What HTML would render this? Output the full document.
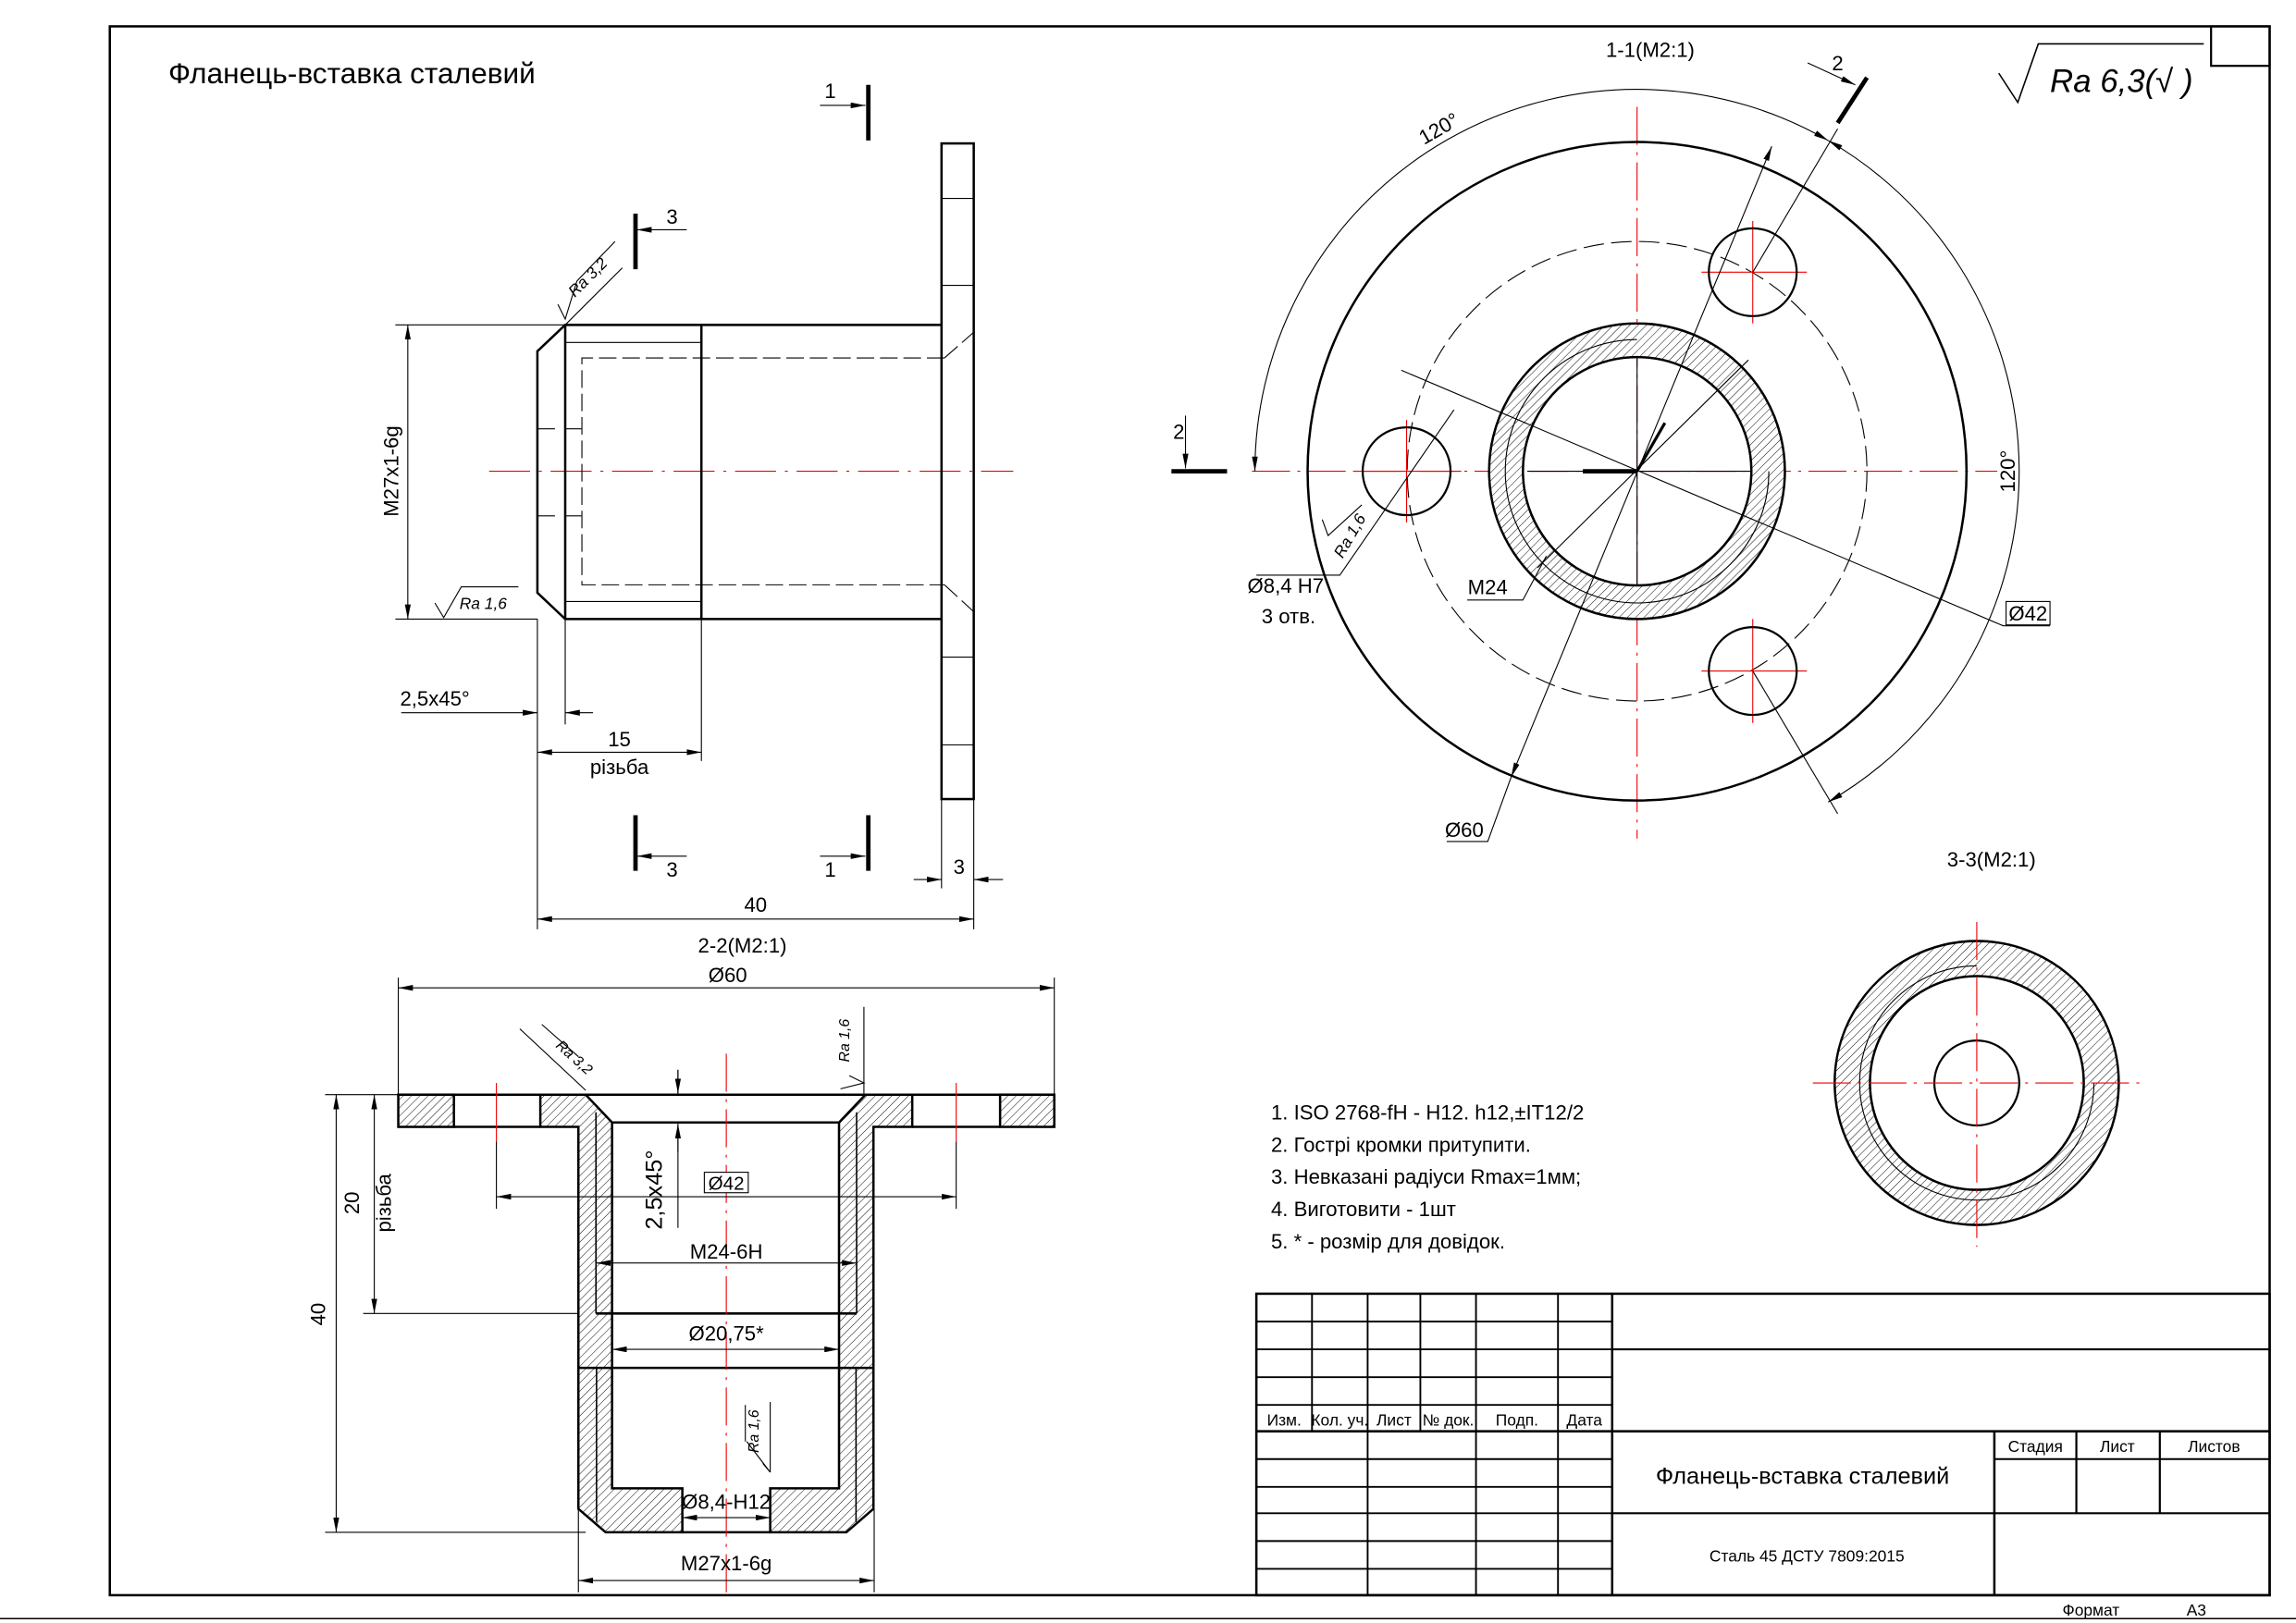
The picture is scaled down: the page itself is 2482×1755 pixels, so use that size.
<!DOCTYPE html>
<html><head><meta charset="utf-8"><style>
html,body{margin:0;padding:0;background:#fff;}
svg{display:block;}
text{font-family:"Liberation Sans Narrow","Liberation Sans","DejaVu Sans",sans-serif;fill:#000;}
</style></head><body>
<svg width="2482" height="1755" viewBox="0 0 1568 1109" preserveAspectRatio="none" xmlns="http://www.w3.org/2000/svg">
<defs>
<pattern id="h" patternUnits="userSpaceOnUse" width="4" height="4" patternTransform="rotate(45)">
<rect width="4" height="4" fill="#fff"/><line x1="0" y1="0" x2="0" y2="4" stroke="#000" stroke-width="0.6"/></pattern>
<marker id="a" viewBox="0 0 10 4" refX="10" refY="2" markerWidth="10" markerHeight="4" markerUnits="userSpaceOnUse" orient="auto-start-reverse"><path d="M0,0 L10,2 L0,4 z" fill="#000"/></marker>
</defs>
<rect width="1568" height="1109" fill="#fff"/>
<!-- frame -->
<g fill="none" stroke="#000">
<rect x="75" y="18" width="1475" height="1072" stroke-width="1.6"/>
<rect x="1510" y="18" width="40" height="27" stroke-width="1.4"/>
<line x1="0" y1="1106" x2="1568" y2="1106" stroke-width="1"/>
</g>
<text x="115" y="57" font-size="20">Фланець-вставка сталевий</text>

<!-- ============ SIDE VIEW ============ -->
<line x1="334" y1="322" x2="692" y2="322" stroke="#e00" stroke-width="0.7" stroke-dasharray="28,6,2,6"/>
<g fill="none" stroke="#000" stroke-width="1.6">
<rect x="643" y="98" width="22" height="448"/>
<polyline points="643,222 386,222 367,240 367,405 386,423 643,423"/>
<line x1="386" y1="222" x2="386" y2="423"/>
<line x1="479" y1="222" x2="479" y2="423"/>
</g>
<g fill="none" stroke="#000" stroke-width="0.7">
<line x1="386" y1="234" x2="479" y2="234"/>
<line x1="386" y1="411" x2="479" y2="411"/>
<line x1="643" y1="135.6" x2="665" y2="135.6"/>
<line x1="643" y1="195" x2="665" y2="195"/>
<line x1="643" y1="449" x2="665" y2="449"/>
<line x1="643" y1="509" x2="665" y2="509"/>
<polyline points="645,244.6 397.4,244.6 397.4,399.6 645,399.6" stroke-dasharray="12,4"/>
<line x1="645" y1="244.6" x2="665" y2="227" stroke-dasharray="12,4"/>
<line x1="645" y1="399.6" x2="665" y2="418" stroke-dasharray="12,4"/>
<line x1="367" y1="293" x2="379" y2="293"/><line x1="386" y1="293" x2="397" y2="293"/>
<line x1="367" y1="352.5" x2="379" y2="352.5"/><line x1="386" y1="352.5" x2="397" y2="352.5"/>
<!-- M27 dim -->
<line x1="270" y1="222" x2="386" y2="222"/>
<line x1="270" y1="423" x2="367" y2="423"/>
<line x1="278.5" y1="222" x2="278.5" y2="423" marker-start="url(#a)" marker-end="url(#a)"/>
<!-- Ra 1,6 -->
<polyline points="297,412 303,422 315,401 354,401"/>
<!-- Ra 3,2 -->
<polyline points="381,208 386,218 394,192"/>
<line x1="386" y1="222" x2="425" y2="183"/>
<line x1="394" y1="192" x2="420" y2="165"/>
<!-- chamfer dim -->
<line x1="367" y1="423" x2="367" y2="635"/>
<line x1="386" y1="423" x2="386" y2="495"/>
<line x1="274" y1="487" x2="367" y2="487" marker-end="url(#a)"/>
<line x1="405" y1="487" x2="386" y2="487" marker-end="url(#a)"/>
<!-- 15 -->
<line x1="479" y1="423" x2="479" y2="520"/>
<line x1="367" y1="514" x2="479" y2="514" marker-start="url(#a)" marker-end="url(#a)"/>
<!-- 40 -->
<line x1="665" y1="546" x2="665" y2="635"/>
<line x1="643" y1="546" x2="643" y2="607"/>
<line x1="367" y1="628" x2="665" y2="628" marker-start="url(#a)" marker-end="url(#a)"/>
<!-- 3 -->
<line x1="624" y1="601" x2="643" y2="601" marker-end="url(#a)"/>
<line x1="685" y1="601" x2="665" y2="601" marker-end="url(#a)"/>
<!-- section arrows -->
<line x1="469" y1="157" x2="435" y2="157" marker-end="url(#a)"/>
<line x1="560" y1="72" x2="591" y2="72" marker-end="url(#a)"/>
<line x1="469" y1="585" x2="435" y2="585" marker-end="url(#a)"/>
<line x1="560" y1="585" x2="591" y2="585" marker-end="url(#a)"/>
</g>
<g stroke="#000" stroke-width="3">
<line x1="593" y1="58" x2="593" y2="96"/>
<line x1="434" y1="146" x2="434" y2="184"/>
<line x1="434" y1="557" x2="434" y2="595"/>
<line x1="593" y1="557" x2="593" y2="595"/>
</g>
<text x="567" y="67" font-size="14" text-anchor="middle">1</text>
<text x="459" y="153" font-size="14" text-anchor="middle">3</text>
<text x="459" y="599" font-size="14" text-anchor="middle">3</text>
<text x="567" y="599" font-size="14" text-anchor="middle">1</text>
<text x="655" y="597" font-size="14" text-anchor="middle">3</text>
<text x="516" y="623" font-size="14" text-anchor="middle">40</text>
<text x="423" y="510" font-size="14" text-anchor="middle">15</text>
<text x="423" y="529" font-size="14" text-anchor="middle">різьба</text>
<text x="297" y="482" font-size="14" text-anchor="middle">2,5x45°</text>
<text x="272" y="322" font-size="14" text-anchor="middle" transform="rotate(-90 272 322)">M27x1-6g</text>
<text x="330" y="416" font-size="11" font-style="italic" text-anchor="middle">Ra 1,6</text>
<text x="404" y="192" font-size="11" font-style="italic" text-anchor="middle" transform="rotate(-45 404 192)">Ra 3,2</text>

<!-- ============ SECTION 1-1 ============ -->
<text x="1127" y="39" font-size="14" text-anchor="middle">1-1(M2:1)</text>
<g stroke="#e00" stroke-width="0.7" stroke-dasharray="26,5,2,5" fill="none">
<line x1="855" y1="322" x2="1364" y2="322"/>
<line x1="1118" y1="73" x2="1118" y2="573"/>
<circle cx="1118" cy="322" r="157" stroke="#000" stroke-dasharray="14,5"/>
</g>
<g stroke="#e00" stroke-width="0.7">
<line x1="925" y1="322" x2="998" y2="322"/><line x1="960.6" y1="287" x2="960.6" y2="357"/>
<line x1="1162" y1="186" x2="1234" y2="186"/><line x1="1197" y1="151" x2="1197" y2="221"/>
<line x1="1162" y1="458.5" x2="1234" y2="458.5"/><line x1="1197" y1="423" x2="1197" y2="494"/>
</g>
<circle cx="1118" cy="322" r="225" fill="none" stroke="#000" stroke-width="1.6"/>
<path d="M1118,221 A101,101 0 1,1 1117.9,221 Z M1118,244 A78,78 0 1,0 1118.1,244 Z" fill="url(#h)" fill-rule="evenodd" stroke="#000" stroke-width="1.6"/>
<path d="M1208,322 A90,90 0 1,1 1118,232" fill="none" stroke="#000" stroke-width="0.7"/>
<g fill="none" stroke="#000" stroke-width="1.4">
<circle cx="960.6" cy="322" r="30"/>
<circle cx="1197" cy="186" r="30"/>
<circle cx="1197" cy="458.5" r="30"/>
</g>
<g fill="none" stroke="#000" stroke-width="0.7">
<line x1="1043" y1="322" x2="1196" y2="322"/>
<line x1="1118" y1="244" x2="1118" y2="400"/>
<path d="M857,322 A261,261 0 0,1 1248.5,96" marker-start="url(#a)" marker-end="url(#a)"/>
<path d="M1248.5,96 A261,261 0 0,1 1248.5,548" marker-start="url(#a)" marker-end="url(#a)"/>
<line x1="1197" y1="186" x2="1255" y2="88"/>
<line x1="1197" y1="458.5" x2="1255" y2="556"/>
<line x1="1210" y1="100" x2="1032" y2="531" marker-start="url(#a)" marker-end="url(#a)"/>
<polyline points="1032,531 1016,575 988,575"/>
<line x1="957" y1="253" x2="1368" y2="427.6"/>
<line x1="1368" y1="427.6" x2="1400" y2="427.6"/>
<line x1="1194" y1="246" x2="1050" y2="388"/>
<polyline points="1056,380 1040,410 1002,410"/>
<polyline points="993,280 915,393 858,393"/>
<polyline points="903,355 907,366 930,345"/>
<line x1="1234.5" y1="43" x2="1267" y2="58" marker-end="url(#a)"/>
<line x1="809.6" y1="284" x2="809.6" y2="320" marker-end="url(#a)"/>
</g>
<g stroke="#000" stroke-width="3">
<line x1="1081" y1="322" x2="1118" y2="322"/>
<line x1="1118" y1="322" x2="1137" y2="289" stroke-width="2"/>
<line x1="800" y1="322" x2="838" y2="322"/>
<line x1="1255" y1="84" x2="1275" y2="53"/>
</g>
<text x="1255" y="48" font-size="14" text-anchor="middle">2</text>
<text x="805" y="300" font-size="14" text-anchor="middle">2</text>
<text x="985" y="92" font-size="14" text-anchor="middle" transform="rotate(-30 985 92)">120°</text>
<text x="1376" y="322" font-size="14" text-anchor="middle" transform="rotate(-90 1376 322)">120°</text>
<text x="1000" y="572" font-size="14" text-anchor="middle">Ø60</text>
<text x="1016" y="406" font-size="14" text-anchor="middle">M24</text>
<text x="878" y="405" font-size="14" text-anchor="middle">Ø8,4 H7</text>
<text x="880" y="426" font-size="14" text-anchor="middle">3 отв.</text>
<rect x="1370" y="411" width="30" height="16" fill="none" stroke="#000" stroke-width="0.7"/>
<text x="1385" y="424" font-size="14" text-anchor="middle">Ø42</text>
<text x="925" y="368" font-size="11" font-style="italic" text-anchor="middle" transform="rotate(-60 925 368)">Ra 1,6</text>
<!-- Ra 6,3 -->
<polyline points="1365,50 1378,70 1392,30 1505,30" fill="none" stroke="#000" stroke-width="1"/>
<text x="1400" y="63" font-size="22" font-style="italic">Ra 6,3(√ )</text>

<!-- ============ SECTION 3-3 ============ -->
<text x="1360" y="592" font-size="14" text-anchor="middle">3-3(M2:1)</text>
<path d="M1350,643 A97,97 0 1,1 1349.9,643 Z M1350,667 A73,73 0 1,0 1350.1,667 Z" fill="url(#h)" fill-rule="evenodd" stroke="#000" stroke-width="1.6"/>
<path d="M1430,740 A80,80 0 1,1 1350,660" fill="none" stroke="#000" stroke-width="0.7"/>
<circle cx="1350" cy="740" r="29" fill="none" stroke="#000" stroke-width="1.4"/>
<g stroke="#e00" stroke-width="0.7" stroke-dasharray="26,5,2,5">
<line x1="1238" y1="740" x2="1463" y2="740"/>
<line x1="1350" y1="630" x2="1350" y2="852"/>
</g>

<!-- ============ SECTION 2-2 ============ -->
<text x="507" y="651" font-size="14" text-anchor="middle">2-2(M2:1)</text>
<text x="497" y="671" font-size="14" text-anchor="middle">Ø60</text>
<g stroke="#000" stroke-width="1.6" fill="url(#h)">
<rect x="272" y="748" width="38" height="22"/>
<rect x="683" y="748" width="37" height="22"/>
<polygon points="369,748 400,748 418,767 418,1017 466,1017 466,1047 413.6,1047 395,1031 395,770 369,770"/>
<polygon points="623,748 591,748 573,767 573,1017 526,1017 526,1047 578,1047 596.5,1031 596.5,770 623,770"/>
</g>
<g stroke="#000" stroke-width="1.6" fill="none">
<line x1="272" y1="748" x2="720" y2="748"/>
<line x1="310" y1="770" x2="369" y2="770"/>
<line x1="623" y1="770" x2="683" y2="770"/>
<line x1="418" y1="767" x2="573" y2="767"/>
<line x1="407" y1="897.5" x2="585" y2="897.5"/>
<line x1="395" y1="934.7" x2="596.5" y2="934.7"/>
<line x1="466" y1="1047" x2="526" y2="1047"/>
</g>
<g stroke="#000" stroke-width="1" fill="none">
<line x1="407" y1="760" x2="407" y2="897.5"/>
<line x1="585" y1="760" x2="585" y2="897.5"/>
<line x1="407.4" y1="934.7" x2="407.4" y2="1040"/>
<line x1="584.6" y1="934.7" x2="584.6" y2="1040"/>
</g>
<g stroke="#e00" stroke-width="0.7">
<line x1="496" y1="720" x2="496" y2="1092" stroke-dasharray="26,5,2,5"/>
<line x1="339" y1="740" x2="339" y2="780"/>
<line x1="653" y1="740" x2="653" y2="780"/>
</g>
<g stroke="#000" stroke-width="0.7" fill="none">
<line x1="272" y1="668" x2="272" y2="748"/>
<line x1="720" y1="668" x2="720" y2="748"/>
<line x1="272" y1="675" x2="720" y2="675" marker-start="url(#a)" marker-end="url(#a)"/>
<line x1="222" y1="748" x2="272" y2="748"/>
<line x1="222" y1="1047" x2="400" y2="1047"/>
<line x1="229.6" y1="748" x2="229.6" y2="1047" marker-start="url(#a)" marker-end="url(#a)"/>
<line x1="248" y1="897.5" x2="395" y2="897.5"/>
<line x1="255.6" y1="748" x2="255.6" y2="897.5" marker-start="url(#a)" marker-end="url(#a)"/>
<line x1="339" y1="780" x2="339" y2="826"/>
<line x1="653" y1="780" x2="653" y2="826"/>
<line x1="339" y1="817.7" x2="653" y2="817.7" marker-start="url(#a)" marker-end="url(#a)"/>
<line x1="463" y1="731" x2="463" y2="748" />
<line x1="463" y1="731" x2="463" y2="747" marker-end="url(#a)"/>
<line x1="463" y1="787" x2="463" y2="768" marker-end="url(#a)"/>
<line x1="463" y1="768" x2="463" y2="839"/>
<line x1="407" y1="863" x2="585" y2="863" marker-start="url(#a)" marker-end="url(#a)"/>
<line x1="418" y1="922" x2="573" y2="922" marker-start="url(#a)" marker-end="url(#a)"/>
<line x1="466" y1="1037" x2="526" y2="1037" marker-start="url(#a)" marker-end="url(#a)"/>
<line x1="395" y1="1031" x2="395" y2="1088"/>
<line x1="597" y1="1031" x2="597" y2="1088"/>
<line x1="395" y1="1080" x2="597" y2="1080" marker-start="url(#a)" marker-end="url(#a)"/>
<!-- Ra symbols -->
<line x1="526" y1="958" x2="526" y2="1006"/>
<polyline points="510,985 526,1006 521,1000"/>
<line x1="509" y1="960" x2="509" y2="985"/>
<line x1="590" y1="688" x2="590" y2="748"/>
<polyline points="580,735 590,740 574,744"/>
<line x1="355" y1="703" x2="400" y2="745"/>
<line x1="370" y1="700" x2="395" y2="722"/>
</g>
<rect x="481" y="801" width="30" height="14" fill="#fff" stroke="#000" stroke-width="0.7"/>
<text x="496" y="813" font-size="13" text-anchor="middle">Ø42</text>
<text x="496" y="860" font-size="14" text-anchor="middle">M24-6H</text>
<text x="496" y="916" font-size="14" text-anchor="middle">Ø20,75*</text>
<text x="496" y="1031" font-size="14" text-anchor="middle">Ø8,4-H12</text>
<text x="496" y="1073" font-size="14" text-anchor="middle">M27x1-6g</text>
<text x="452" y="813" font-size="16" text-anchor="middle" transform="rotate(-90 452 813)">2,5x45°</text>
<text x="245" y="822" font-size="14" text-anchor="middle" transform="rotate(-90 245 822)">20</text>
<text x="267" y="822" font-size="14" text-anchor="middle" transform="rotate(-90 267 822)">різьба</text>
<text x="222" y="898" font-size="14" text-anchor="middle" transform="rotate(-90 222 898)">40</text>
<text x="518" y="978" font-size="10" font-style="italic" text-anchor="middle" transform="rotate(-90 518 978)">Ra 1,6</text>
<text x="580" y="711" font-size="10" font-style="italic" text-anchor="middle" transform="rotate(-90 580 711)">Ra 1,6</text>
<text x="390" y="725" font-size="10" font-style="italic" text-anchor="middle" transform="rotate(42 390 725)">Ra 3,2</text>

<!-- notes -->
<g font-size="14">
<text x="868" y="765">1. ISO 2768-fH -  H12. h12,±IT12/2</text>
<text x="868" y="787">2. Гострі кромки притупити.</text>
<text x="868" y="809">3. Невказані радіуси Rmax=1мм;</text>
<text x="868" y="831">4. Виготовити - 1шт</text>
<text x="868" y="853">5. * - розмір для довідок.</text>
</g>

<!-- title block -->
<g stroke="#000" fill="none">
<rect x="858" y="884" width="692" height="206" stroke-width="1.6"/>
<line x1="1101" y1="884" x2="1101" y2="1090" stroke-width="1.6"/>
<line x1="1101" y1="922" x2="1550" y2="922" stroke-width="1.4"/>
<line x1="858" y1="978" x2="1550" y2="978" stroke-width="1.6"/>
<line x1="1101" y1="1034" x2="1362" y2="1034" stroke-width="1.4"/>
<line x1="1362" y1="978" x2="1362" y2="1090" stroke-width="1.6"/>
<line x1="1362" y1="997" x2="1550" y2="997" stroke-width="1.2"/>
<line x1="1362" y1="1034" x2="1550" y2="1034" stroke-width="1.4"/>
<line x1="1418" y1="978" x2="1418" y2="1034" stroke-width="1.4"/>
<line x1="1475" y1="978" x2="1475" y2="1034" stroke-width="1.4"/>
<g stroke-width="1.2">
<line x1="896" y1="884" x2="896" y2="978"/>
<line x1="934" y1="884" x2="934" y2="1090"/>
<line x1="970" y1="884" x2="970" y2="978"/>
<line x1="1008" y1="884" x2="1008" y2="1090"/>
<line x1="1064" y1="884" x2="1064" y2="1090"/>
<line x1="858" y1="903" x2="1101" y2="903"/>
<line x1="858" y1="922" x2="1101" y2="922"/>
<line x1="858" y1="941" x2="1101" y2="941"/>
<line x1="858" y1="960" x2="1101" y2="960"/>
<line x1="858" y1="997" x2="1101" y2="997"/>
<line x1="858" y1="1016" x2="1101" y2="1016"/>
<line x1="858" y1="1034" x2="1101" y2="1034"/>
<line x1="858" y1="1053" x2="1101" y2="1053"/>
<line x1="858" y1="1072" x2="1101" y2="1072"/>
</g>
</g>
<g font-size="11" text-anchor="middle">
<text x="877" y="974">Изм.</text>
<text x="915" y="974">Кол. уч.</text>
<text x="952" y="974">Лист</text>
<text x="989" y="974">№ док.</text>
<text x="1036" y="974">Подп.</text>
<text x="1082" y="974">Дата</text>
<text x="1390" y="992">Стадия</text>
<text x="1446" y="992">Лист</text>
<text x="1512" y="992">Листов</text>
<text x="1234" y="1067">Сталь 45 ДСТУ 7809:2015</text>
<text x="1428" y="1104">Формат</text>
<text x="1500" y="1104">A3</text>
</g>
<text x="1231" y="1014" font-size="16" text-anchor="middle">Фланець-вставка сталевий</text>
</svg>
</body></html>
